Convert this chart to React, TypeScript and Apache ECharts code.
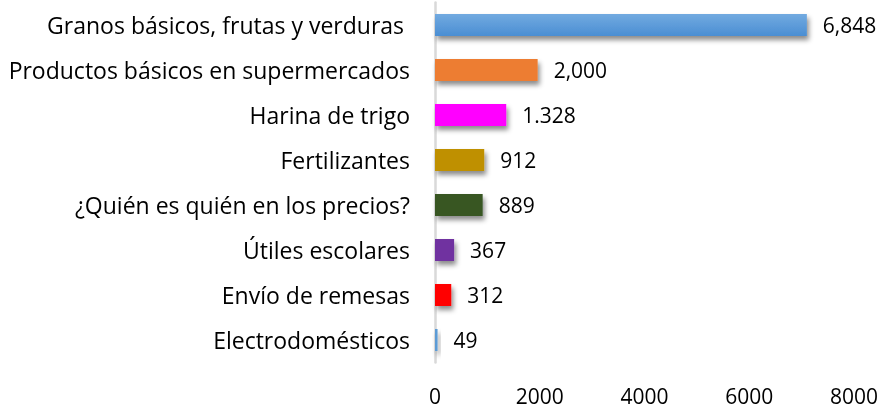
import React, { useEffect, useRef } from "react";
import * as echarts from "echarts";

const categories = [
  "Granos básicos, frutas y verduras ",
  "Productos básicos en supermercados",
  "Harina de trigo",
  "Fertilizantes",
  "¿Quién es quién en los precios?",
  "Útiles escolares",
  "Envío de remesas",
  "Electrodomésticos",
];
const barValues = [7100, 1960, 1360, 940, 910, 365, 310, 49];
const labelTexts = ["6,848", "2,000", "1.328", "912", "889", "367", "312", "49"];
const colors = ["#5b9bd5", "#ed7d31", "#ff00ff", "#bf9000", "#375623", "#7030a0", "#ff0000", "#5b9bd5"];
const xTicks = [0, 2000, 4000, 6000, 8000];

export default function App() {
  const ref = useRef<HTMLDivElement>(null);
  useEffect(() => {
    if (!ref.current) return;
    const chart = echarts.init(ref.current, null, { renderer: "svg" });
    const font = "'Open Sans', sans-serif";
    const fs = 21;
    chart.setOption({
      animation: false,
      grid: { left: 435, right: 32, top: 2.5, bottom: 47.5, containLabel: false },
      xAxis: {
        type: "value",
        min: xTicks[0],
        max: xTicks[xTicks.length - 1],
        interval: 2000,
        axisLine: { show: false },
        axisTick: { show: false },
        splitLine: { show: false },
        axisLabel: {
          margin: 23,
          color: "#000",
          fontSize: fs,
          fontFamily: font,
          formatter: (v: number) => String(v),
        },
      },
      yAxis: {
        type: "category",
        inverse: true,
        data: categories,
        axisLine: { show: true, lineStyle: { color: "#d9d9d9", width: 2.5 } },
        axisTick: { show: false },
        axisLabel: { margin: 25, color: "#000", fontSize: 23, fontFamily: font },
      },
      series: [
        {
          type: "bar",
          barWidth: 22,
          data: barValues.map((v, i) => ({
            value: v,
            itemStyle: {
              color:
                i === 0
                  ? new echarts.graphic.LinearGradient(0, 0, 0, 1, [
                      { offset: 0, color: "#72aae0" },
                      { offset: 1, color: "#4a8ed3" },
                    ])
                  : colors[i],
              shadowColor: "rgba(0,0,0,0.45)",
              shadowBlur: 5,
              shadowOffsetX: 2,
              shadowOffsetY: 4,
            },
            label: {
              show: true,
              position: "right",
              distance: 16,
              formatter: () => labelTexts[i],
              color: "#000",
              fontSize: fs,
              fontFamily: font,
            },
          })),
        },
      ],
    });
    return () => chart.dispose();
  }, []);
  return (
    <div
      ref={ref}
      style={{ position: "fixed", left: 0, top: 0, width: 886, height: 410 }}
    />
  );
}
